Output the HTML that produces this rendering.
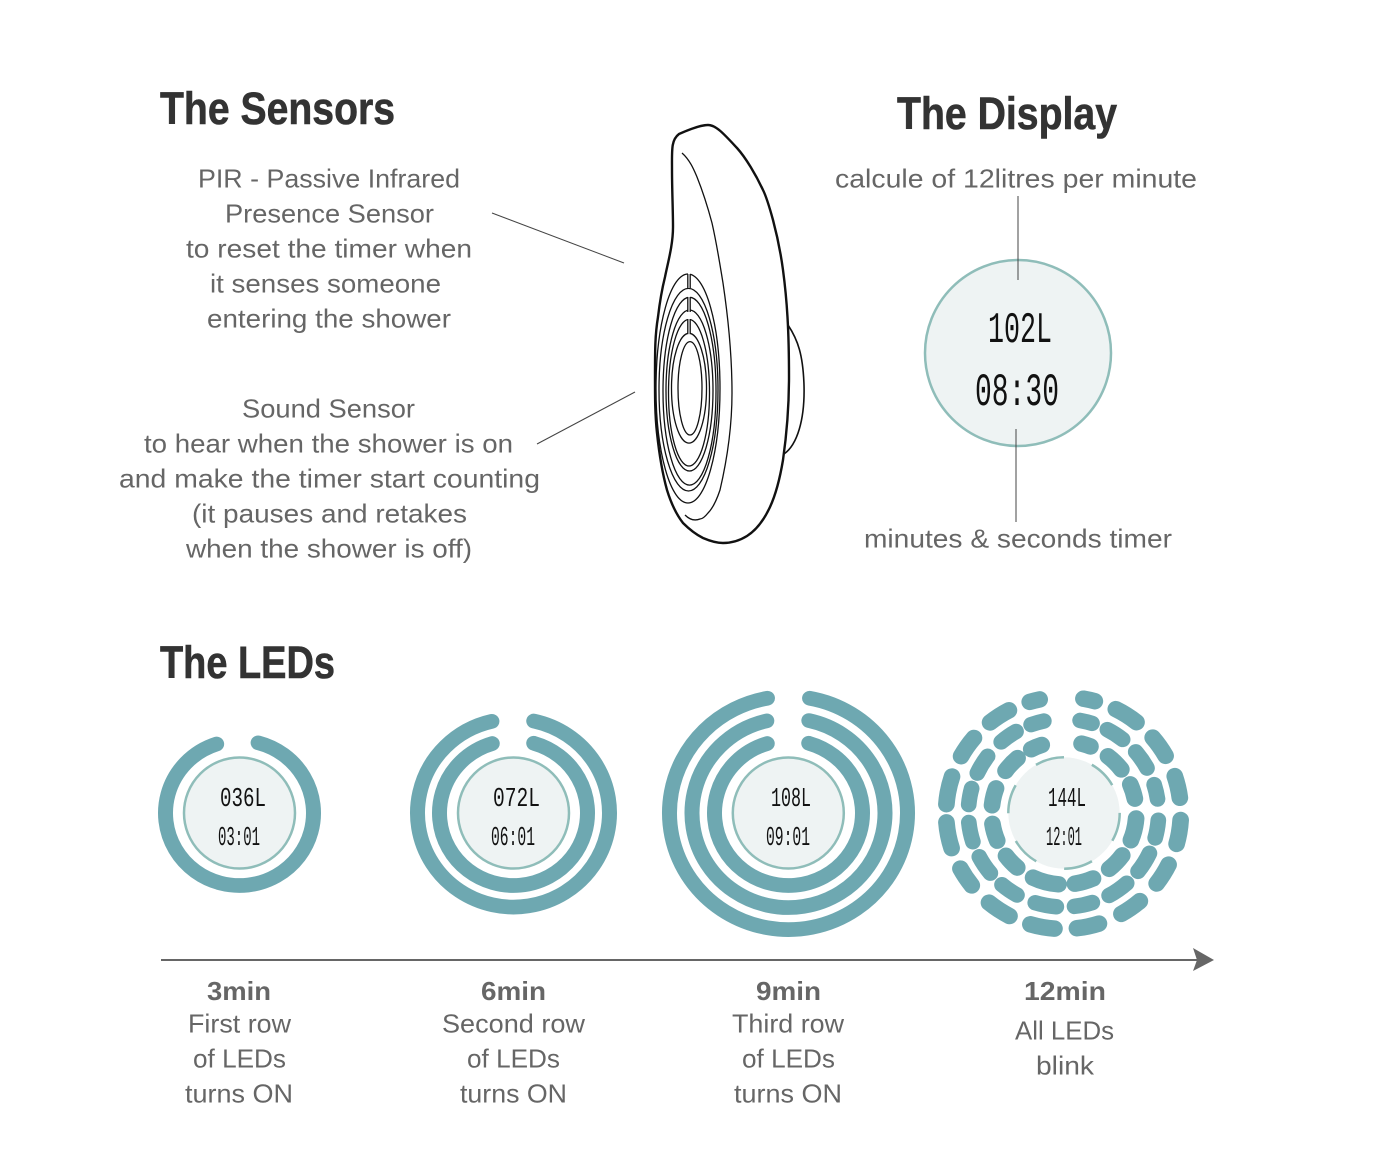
<!DOCTYPE html>
<html><head><meta charset="utf-8"><style>
html,body{margin:0;padding:0;background:#fff}
svg{display:block}
.h{font:bold 45px "Liberation Sans Narrow","Liberation Sans",sans-serif;fill:#333;stroke:#333;stroke-width:.6}
.b{font:26px "Liberation Sans",sans-serif;fill:#666}
.m{font:bold 26px "Liberation Sans",sans-serif;fill:#666}
.l{font-family:"Liberation Mono",monospace;fill:#111}
.r{fill:none;stroke:#6ea8b1;stroke-linecap:round;stroke-width:15}
.d{fill:#eef3f3;stroke:#8fbdb9;stroke-width:2.5}
.c{stroke:#444;stroke-width:1;fill:none}
.o{fill:#fff;stroke:#111;stroke-width:2.4;stroke-linejoin:round}
.t{fill:none;stroke:#111;stroke-width:1.3}
</style></head><body>
<svg width="1400" height="1173" viewBox="0 0 1400 1173" xmlns="http://www.w3.org/2000/svg">
<rect width="1400" height="1173" fill="#fff"/>

<text class="h" x="160" y="124" textLength="235" lengthAdjust="spacingAndGlyphs">The Sensors</text>
<text class="h" x="897" y="129" textLength="220" lengthAdjust="spacingAndGlyphs">The Display</text>
<text class="h" x="160" y="678" textLength="175" lengthAdjust="spacingAndGlyphs">The LEDs</text>

<g class="b" transform="translate(0 -.7)">
<text x="198" y="188" textLength="262" lengthAdjust="spacingAndGlyphs">PIR - Passive Infrared</text>
<text x="225" y="223" textLength="209" lengthAdjust="spacingAndGlyphs">Presence Sensor</text>
<text x="186" y="258" textLength="286" lengthAdjust="spacingAndGlyphs">to reset the timer when</text>
<text x="210" y="293" textLength="231" lengthAdjust="spacingAndGlyphs">it senses someone</text>
<text x="207" y="328" textLength="244" lengthAdjust="spacingAndGlyphs">entering the shower</text>
<text x="242" y="418" textLength="173" lengthAdjust="spacingAndGlyphs">Sound Sensor</text>
<text x="144" y="453" textLength="369" lengthAdjust="spacingAndGlyphs">to hear when the shower is on</text>
<text x="119" y="488" textLength="421" lengthAdjust="spacingAndGlyphs">and make the timer start counting</text>
<text x="192" y="523" textLength="275" lengthAdjust="spacingAndGlyphs">(it pauses and retakes</text>
<text x="186" y="558" textLength="286" lengthAdjust="spacingAndGlyphs">when the shower is off)</text>
<text x="835" y="188" textLength="362" lengthAdjust="spacingAndGlyphs">calcule of 12litres per minute</text>
<text x="864" y="548" textLength="308" lengthAdjust="spacingAndGlyphs">minutes &amp; seconds timer</text>

<text x="188" y="1033" textLength="103" lengthAdjust="spacingAndGlyphs">First row</text>
<text x="193" y="1068" textLength="93" lengthAdjust="spacingAndGlyphs">of LEDs</text>
<text x="185" y="1103" textLength="108" lengthAdjust="spacingAndGlyphs">turns ON</text>
<text x="442" y="1033" textLength="143" lengthAdjust="spacingAndGlyphs">Second row</text>
<text x="467" y="1068" textLength="93" lengthAdjust="spacingAndGlyphs">of LEDs</text>
<text x="460" y="1103" textLength="107" lengthAdjust="spacingAndGlyphs">turns ON</text>
<text x="732" y="1033" textLength="112" lengthAdjust="spacingAndGlyphs">Third row</text>
<text x="742" y="1068" textLength="93" lengthAdjust="spacingAndGlyphs">of LEDs</text>
<text x="734" y="1103" textLength="108" lengthAdjust="spacingAndGlyphs">turns ON</text>
<text x="1015" y="1040" textLength="99" lengthAdjust="spacingAndGlyphs">All LEDs</text>
<text x="1036" y="1075" textLength="58" lengthAdjust="spacingAndGlyphs">blink</text>
</g>
<g class="m">
<text x="207" y="1000" textLength="64" lengthAdjust="spacingAndGlyphs">3min</text>
<text x="481" y="1000" textLength="65" lengthAdjust="spacingAndGlyphs">6min</text>
<text x="756" y="1000" textLength="65" lengthAdjust="spacingAndGlyphs">9min</text>
<text x="1024" y="1000" textLength="82" lengthAdjust="spacingAndGlyphs">12min</text>
</g>

<!-- connectors -->
<line class="c" x1="492" y1="213" x2="624" y2="263"/>
<line class="c" x1="537" y1="444" x2="635" y2="392"/>

<!-- device -->
<path class="o" style="stroke-width:1.6" d="M788 325C798 340 803 355 804 385C805 420 797 445 784 454Z"/>
<path class="o" d="M679 134C688 130 700 125 708 125C716 125 724 134 737 148C746 158 756 175 763 190C767 198 770 209 773 220C777 235 781 255 783 270C787 300 789 330 789 377C789 405 787 432 783 460C780 478 776 494 770 507C763 522 755 531 747 536C739 541 731 543 723 543C716 543 710 541 703 538C695 534 689 529 683 523C676 514 671 503 667 490C662 472 659 452 657 433C655 415 655 397 655 377C655 350 655 335 658 317C660 300 663 285 665 277C668 262 673 245 673 227C673 210 672 190 672 170C672 150 671 140 679 134Z"/>
<path class="t" d="M682 153C690 160 694 170 697 177C703 192 708 208 712 223C717 245 720 265 723 283C727 310 732 350 732 393C732 425 727 460 720 490C716 502 712 509 708 513C704 518 702 519 700 519C695 521 690 520 685 515"/>
<g class="t">
<ellipse cx="690" cy="388.3" rx="12" ry="46.7"/>
<ellipse cx="689" cy="388.2" rx="17.5" ry="54.9"/>
<ellipse cx="689" cy="392.7" rx="20.5" ry="73.3"/>
<ellipse cx="689.5" cy="390.5" rx="23.5" ry="80.5"/>
<ellipse cx="689.5" cy="391.2" rx="26.5" ry="93.9"/>
<ellipse cx="688.5" cy="389.7" rx="29.5" ry="101.3"/>
<ellipse cx="688" cy="388.5" rx="32" ry="114.5"/>
</g>
<rect x="688" y="272" width="2.2" height="16" fill="#fff"/>
<rect x="688" y="295" width="2.2" height="17" fill="#fff"/>
<rect x="688" y="317" width="2.2" height="17" fill="#fff"/>
<path class="t" d="M687.8 274V288M690.2 274V288M687.8 297V312M690.2 297V312M687.8 319V334M690.2 319V334"/>

<!-- display -->
<circle class="d" cx="1018" cy="353" r="93"/>
<line class="c" x1="1018" y1="196" x2="1018" y2="280"/>
<line class="c" x1="1016" y1="429" x2="1016" y2="522"/>
<text class="l" x="988" y="342" font-size="44" textLength="64" lengthAdjust="spacingAndGlyphs">102L</text>
<text class="l" x="975" y="405" font-size="46" textLength="84" lengthAdjust="spacingAndGlyphs">08:30</text>

<!-- LED rings, slightly flattened vertically as in the reference -->
<g transform="matrix(1 0 0 .98 0 16.26)">
<circle class="r" cx="239.5" cy="813" r="74" pathLength="360" stroke-dasharray="327.4 32.6" transform="rotate(-75 239.5 813)"/>
<circle class="r" cx="513.5" cy="813" r="96" pathLength="360" stroke-dasharray="334.8 25.2" transform="rotate(-77.4 513.5 813)"/>
<circle class="r" cx="513.5" cy="813" r="74" pathLength="360" stroke-dasharray="327.4 32.6" transform="rotate(-73.7 513.5 813)"/>
<circle class="r" cx="788.5" cy="813" r="119" pathLength="360" stroke-dasharray="339.6 20.4" transform="rotate(-79.8 788.5 813)"/>
<circle class="r" cx="788.5" cy="813" r="96.5" pathLength="360" stroke-dasharray="334.8 25.2" transform="rotate(-77.4 788.5 813)"/>
<circle class="r" cx="788.5" cy="813" r="74" pathLength="360" stroke-dasharray="327.4 32.6" transform="rotate(-73.7 788.5 813)"/>
</g>

<circle class="d" cx="239.5" cy="813" r="55.5"/>
<text class="l" x="220" y="806" font-size="27" textLength="46" lengthAdjust="spacingAndGlyphs">036L</text>
<text class="l" x="218" y="845" font-size="27" textLength="42" lengthAdjust="spacingAndGlyphs">03:01</text>

<circle class="d" cx="513.5" cy="813" r="55.5"/>
<text class="l" x="493" y="806" font-size="27" textLength="47" lengthAdjust="spacingAndGlyphs">072L</text>
<text class="l" x="491" y="845" font-size="27" textLength="44" lengthAdjust="spacingAndGlyphs">06:01</text>

<circle class="d" cx="788.3" cy="813" r="55.5"/>
<text class="l" x="771" y="806" font-size="27" textLength="40" lengthAdjust="spacingAndGlyphs">108L</text>
<text class="l" x="766" y="845" font-size="27" textLength="44" lengthAdjust="spacingAndGlyphs">09:01</text>

<!-- LED set 4 -->
<g transform="matrix(1.012 0 0 1 -12.8 0)">
<circle class="r" style="stroke-width:16.5" cx="1063.5" cy="813" r="116" pathLength="360" transform="rotate(-80 1063.5 813)" stroke-dasharray="5.5 11 12 11 11 11 11 11 12 11 11 12 11 12 11 11 12 11 12 12 10 11 13 9 14 11 11 11 11 11 5 21.5"/>
<circle class="r" style="stroke-width:15.5" cx="1063.5" cy="813" r="94" pathLength="360" transform="rotate(-79.5 1063.5 813)" stroke-dasharray="7 10 11 11 12 11 9 13 11 10 13 10 13 11 11 11 13 12 11 10 12 10 12 11 10 10 12 12 11 10 8 22"/>
<circle class="r" style="stroke-width:16.5" cx="1064" cy="813" r="71.5" pathLength="360" transform="rotate(-75.5 1064 813)" stroke-dasharray="7 16 15 14 12 16 18 14 15 15 15 13 21 15 13 14 14 15 14 16 14 13 9 32"/>
</g>
<circle cx="1064" cy="813" r="55.7" fill="#eef3f3"/>
<circle cx="1064" cy="813" r="55.7" fill="none" stroke="#8fbdb9" stroke-width="2.5" pathLength="360" stroke-dasharray="30 30" transform="rotate(240 1064 813)"/>
<text class="l" x="1048" y="806" font-size="27" textLength="38" lengthAdjust="spacingAndGlyphs">144L</text>
<text class="l" x="1046" y="845" font-size="27" textLength="36" lengthAdjust="spacingAndGlyphs">12:01</text>

<!-- timeline -->
<line x1="161" y1="960" x2="1198" y2="960" stroke="#666" stroke-width="2"/>
<polygon points="1193,948 1214,960 1193,971 1197,960" fill="#666"/>
</svg>
</body></html>
